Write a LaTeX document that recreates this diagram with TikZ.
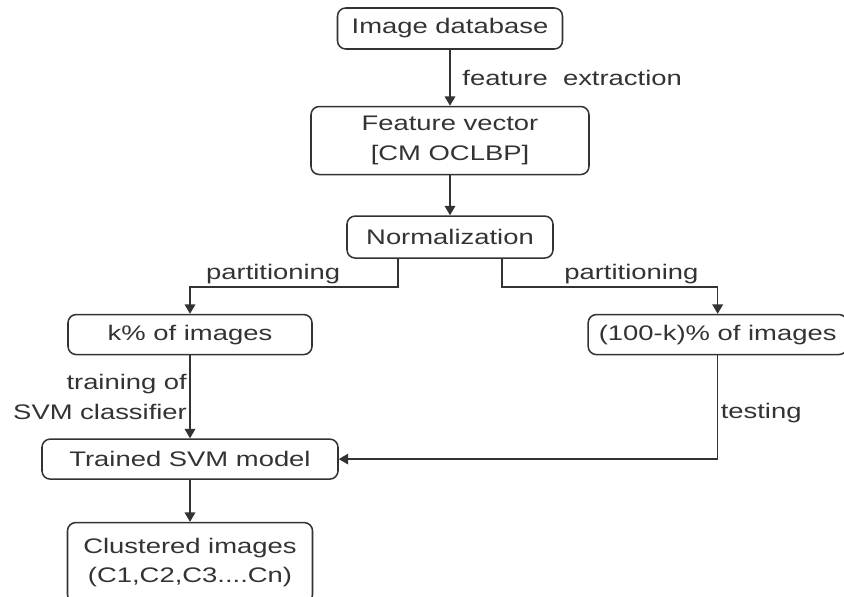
\documentclass[tikz,border=0pt]{standalone}
\usepackage{fontspec}
\setmainfont{Liberation Sans}[FakeStretch=1.3]
\usepackage{tikz}
\usetikzlibrary{arrows.meta,positioning,calc}
\definecolor{ink}{HTML}{333333}

\begin{document}
\begin{tikzpicture}[
    font=\fontsize{18}{25}\selectfont,
    box/.style={rectangle, draw=ink, text=ink, line width=1.3pt, rounded corners=7pt, align=center, inner sep=2pt},
    lbl/.style={text=ink, inner sep=2pt},
    arrow/.style={-{Triangle[length=8pt,width=9pt]}, draw=ink, line width=1.3pt}
]
    \useasboundingbox (0,0) rectangle (25.32,-17.91);

    % Feature extraction
    \node[box, minimum width=6.75cm, minimum height=1.23cm] (db) at (13.5,-0.855) {Image database};
    \node[box, below=1.68cm of db, minimum width=8.34cm, minimum height=2.04cm] (feat) {Feature vector\\{[CM OCLBP]}};
    \node[box, below=1.2cm of feat, minimum width=6.18cm, minimum height=1.26cm] (norm) {Normalization};

    % Partitions
    \node[box, below=1.65cm of norm, xshift=-7.8cm, minimum width=7.32cm, minimum height=1.2cm] (kpart) {k\% of images};
    \node[box, below=1.65cm of norm, xshift=8.03cm, minimum width=7.77cm, minimum height=1.2cm] (rest) {(100-k)\% of images};

    % Classification
    \node[box, below=2.49cm of kpart, minimum width=8.88cm, minimum height=1.2cm] (svm) {Trained SVM model};
    \node[box, below=1.26cm of svm, minimum width=7.35cm, minimum height=2.4cm] (clust) {Clustered images\\(C1,C2,C3....Cn)};

    % Arrows
    \draw[arrow] (db) -- node[lbl, right, xshift=8pt] {feature\ \ extraction} (feat);
    \draw[arrow] (feat) -- (norm);
    \draw[arrow] ([xshift=-1.56cm]norm.south) -- ++(0,-0.84) -| node[lbl, pos=0.3, above] {partitioning} (kpart.north);
    \draw[arrow] ([xshift=1.56cm]norm.south) -- ++(0,-0.84) -| node[lbl, pos=0.3, above] {partitioning} (rest.north);
    \draw[arrow] (kpart) -- node[lbl, left, align=right] {training of\\SVM classifier} (svm);
    \draw[arrow] (rest.south) |- node[lbl, pos=0.28, right] {testing} (svm.east);
    \draw[arrow] (svm) -- (clust);
\end{tikzpicture}
\end{document}
